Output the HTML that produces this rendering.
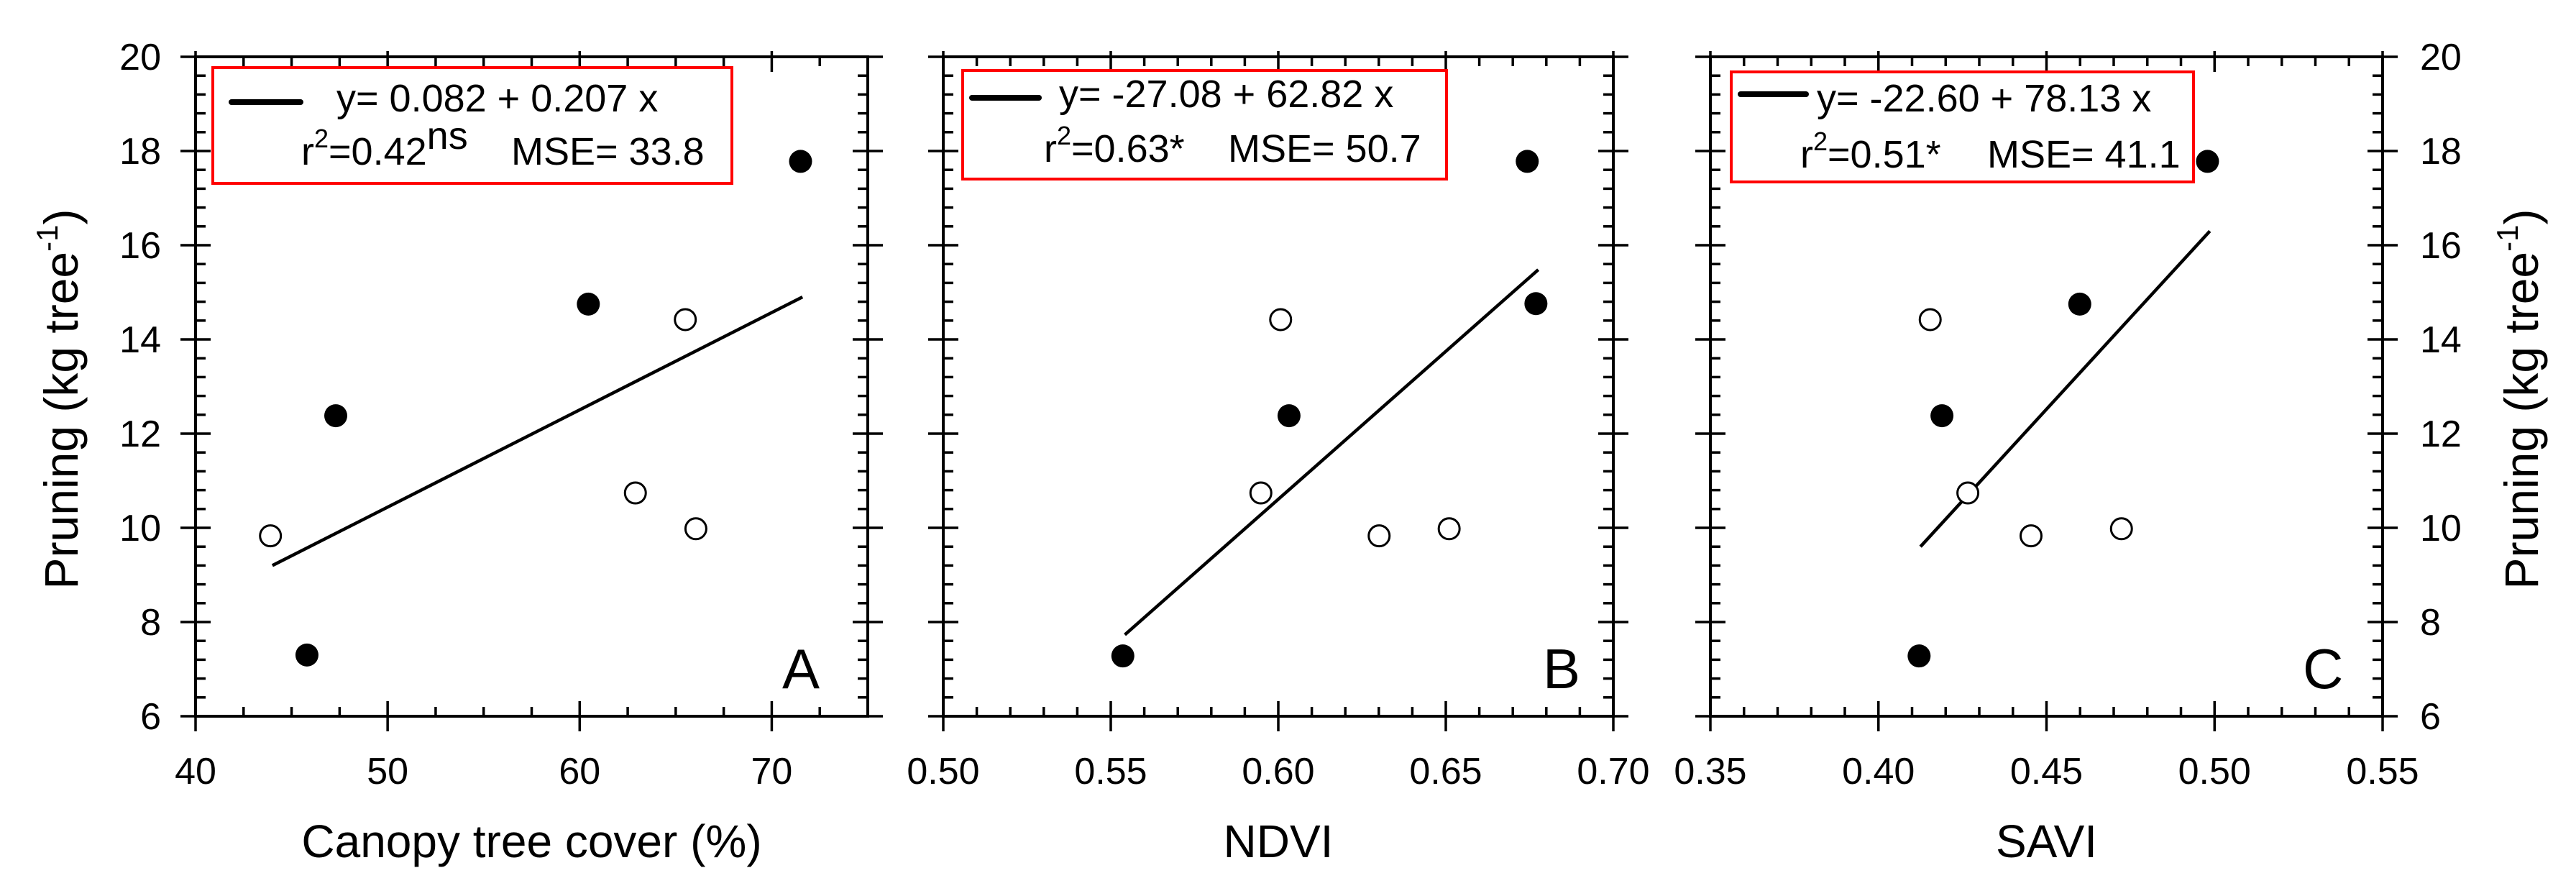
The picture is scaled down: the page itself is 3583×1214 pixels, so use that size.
<!DOCTYPE html>
<html><head><meta charset="utf-8"><style>
html,body{margin:0;padding:0;background:#fff;}
svg{display:block;font-family:"Liberation Sans",Arial,sans-serif;}
</style></head><body>
<svg id="chart" width="3583" height="1214" viewBox="0 0 3583 1214" xmlns="http://www.w3.org/2000/svg">
<g id="root"></g>
</svg>
<script>
// Panel A data: canopy tree cover (%)
const aFilledX = [71.5, 60.45, 47.3, 45.8];
const aFilledY = [17.78, 14.75, 12.38, 7.3];
const aOpenX = [65.5, 62.9, 66.05, 43.9];
const aOpenY = [14.42, 10.74, 9.98, 9.83];
const aLineX = [44.0, 71.6];
const aLineY = [9.2, 14.9];
const aTicks = [40, 50, 60, 70];
const aTickLabels = ["40", "50", "60", "70"];
// Panel B data: NDVI
const bFilledX = [0.6743, 0.6769, 0.6032, 0.5536];
const bFilledY = [17.78, 14.76, 12.38, 7.28];
const bOpenX = [0.6007, 0.5948, 0.6301, 0.6510];
const bOpenY = [14.42, 10.74, 9.83, 9.98];
const bLineX = [0.5542, 0.6776];
const bLineY = [7.73, 15.48];
const bTicks = [0.50, 0.55, 0.60, 0.65, 0.70];
const bTickLabels = ["0.50", "0.55", "0.60", "0.65", "0.70"];
// Panel C data: SAVI
const cFilledX = [0.4979, 0.4599, 0.4189, 0.4121];
const cFilledY = [17.78, 14.75, 12.38, 7.28];
const cOpenX = [0.4154, 0.4266, 0.4454, 0.4723];
const cOpenY = [14.42, 10.74, 9.83, 9.98];
const cLineX = [0.4125, 0.4986];
const cLineY = [9.6, 16.3];
const cTicks = [0.35, 0.40, 0.45, 0.50, 0.55];
const cTickLabels = ["0.35", "0.40", "0.45", "0.50", "0.55"];
// Shared y axis
const yTicks = [6, 8, 10, 12, 14, 16, 18, 20];
const yTickLabels = ["6", "8", "10", "12", "14", "16", "18", "20"];

const NS = "http://www.w3.org/2000/svg";
const root = document.getElementById("root");
const TOP = 79, BOT = 996, YMIN = 6, YMAX = 20;
function yScale(v){ return BOT - (v - YMIN) / (YMAX - YMIN) * (BOT - TOP); }
function mk(tag, attrs, parent){
  const e = document.createElementNS(NS, tag);
  for (const k in attrs) e.setAttribute(k, attrs[k]);
  (parent || root).appendChild(e);
  return e;
}

function panel(p){
  const g = mk("g", {});
  
  
  const xs = v => p.L + (v - p.xmin) / (p.xmax - p.xmin) * (p.R - p.L);
  const fr = mk("rect", {x:p.L, y:TOP, width:p.R-p.L, height:BOT-TOP, fill:"none", stroke:"#000", "stroke-width":4}, g);
  
  
  const ticks = mk("g", {stroke:"#000", "stroke-width":3.5}, g);
  
  
  const nMinX = Math.round((p.xmax - p.xmin) / p.xminor);
  for (let i = 0; i <= nMinX; i++){
    const v = p.xmin + i * p.xminor;
    const x = xs(v);
    const isMaj = p.ticks.some(t => Math.abs(t - v) < 1e-6);
    if (isMaj){
      mk("line", {x1:x, x2:x, y1:BOT-21, y2:BOT+21}, ticks);
      mk("line", {x1:x, x2:x, y1:TOP-8, y2:TOP+21}, ticks);
    } else {
      mk("line", {x1:x, x2:x, y1:BOT, y2:BOT-13}, ticks);
      mk("line", {x1:x, x2:x, y1:TOP, y2:TOP+13}, ticks);
    }
  }
  for (let i = 0; i <= 35; i++){
    const v = YMIN + i * 0.4;
    const y = yScale(v);
    const isMaj = yTicks.some(t => Math.abs(t - v) < 1e-6);
    if (isMaj){
      mk("line", {x1:p.L-21, x2:p.L+21, y1:y, y2:y}, ticks);
      mk("line", {x1:p.R-21, x2:p.R+21, y1:y, y2:y}, ticks);
    } else {
      mk("line", {x1:p.L, x2:p.L+14, y1:y, y2:y}, ticks);
      mk("line", {x1:p.R, x2:p.R-14, y1:y, y2:y}, ticks);
    }
  }
  p.ticks.forEach((t, i) => {
    const tl = mk("text", {x:xs(t), y:1090, "font-size":52, "text-anchor":"middle", fill:"#000"}, g);
    tl.textContent = p.tickLabels[i];
    
    
  });
  const xt = mk("text", {x:(p.L+p.R)/2, y:1192, "font-size":64, "text-anchor":"middle", fill:"#000"}, g);
  xt.textContent = p.xtitle;
  
  
  const rl = mk("line", {x1:xs(p.lineX[0]), y1:yScale(p.lineY[0]), x2:xs(p.lineX[1]), y2:yScale(p.lineY[1]), stroke:"#000", "stroke-width":4.5}, g);
  
  
  p.fx.forEach((v, i) => {
    const c = mk("circle", {cx:xs(v), cy:yScale(p.fy[i]), r:16, fill:"#000"}, g);
    
    
  });
  p.ox.forEach((v, i) => {
    const c = mk("circle", {cx:xs(v), cy:yScale(p.oy[i]), r:14.5, fill:"#fff", stroke:"#000", "stroke-width":3}, g);
    
    
  });
  const lg = mk("g", {}, g);
  
  
  mk("rect", {x:p.box[0], y:p.box[1], width:p.box[2]-p.box[0], height:p.box[3]-p.box[1], fill:"#fff", stroke:"#ff0000", "stroke-width":4}, lg);
  mk("line", {x1:p.leg[0], x2:p.leg[1], y1:p.leg[2], y2:p.leg[2], stroke:"#000", "stroke-width":8, "stroke-linecap":"round"}, lg);
  const t1 = mk("text", {x:p.eq[0], y:p.eq[1], "font-size":54, fill:"#000"}, lg);
  t1.textContent = p.eqText;
  
  
  const t2 = mk("text", {x:p.r2[0], y:p.r2[1], "font-size":54, fill:"#000"}, lg);
  
  
  const s1 = mk("tspan", {}, t2); s1.textContent = "r";
  const s2 = mk("tspan", {"font-size":36, dy:-24}, t2); s2.textContent = "2";
  const s3 = mk("tspan", {dy:24}, t2); s3.textContent = p.r2Text;
  if (p.sig){ const s4 = mk("tspan", {"font-size":54, dy:-22}, t2); s4.textContent = p.sig; }
  const t3 = mk("text", {x:p.mse[0], y:p.r2[1], "font-size":54, fill:"#000"}, lg);
  t3.textContent = p.mseText;
  
  
  const pl = mk("text", {x:p.letterX, y:957, "font-size":78, fill:"#000"}, g);
  pl.textContent = p.id;
  
  
}

panel({id:"A", L:272, R:1207, xmin:40, xmax:75, xminor:2.5, ticks:aTicks, tickLabels:aTickLabels,
  xtitle:"Canopy tree cover (%)", lineX:aLineX, lineY:aLineY, fx:aFilledX, fy:aFilledY, ox:aOpenX, oy:aOpenY,
  box:[296,94,1018,255], leg:[322,418,142], eq:[468,155], eqText:"y= 0.082 + 0.207 x",
  r2:[419,229], r2Text:"=0.42", sig:"ns", mse:[711,229], mseText:"MSE= 33.8", letterX:1088});
panel({id:"B", L:1312, R:2244, xmin:0.50, xmax:0.70, xminor:0.01, ticks:bTicks, tickLabels:bTickLabels,
  xtitle:"NDVI", lineX:bLineX, lineY:bLineY, fx:bFilledX, fy:bFilledY, ox:bOpenX, oy:bOpenY,
  box:[1339,98,2012,249], leg:[1352,1445,136], eq:[1473,149], eqText:"y= -27.08 + 62.82 x",
  r2:[1452,225], r2Text:"=0.63*", sig:"", mse:[1708,225], mseText:"MSE= 50.7", letterX:2146});
panel({id:"C", L:2379, R:3314, xmin:0.35, xmax:0.55, xminor:0.01, ticks:cTicks, tickLabels:cTickLabels,
  xtitle:"SAVI", lineX:cLineX, lineY:cLineY, fx:cFilledX, fy:cFilledY, ox:cOpenX, oy:cOpenY,
  box:[2408,100,3051,253], leg:[2421,2512,131], eq:[2527,155], eqText:"y= -22.60 + 78.13 x",
  r2:[2504,233], r2Text:"=0.51*", sig:"", mse:[2764,233], mseText:"MSE= 41.1", letterX:3203});

yTicks.forEach((t, i) => {
  const a = mk("text", {x:224, y:yScale(t)+18, "font-size":52, "text-anchor":"end", fill:"#000"});
  a.textContent = yTickLabels[i];
  
  
  const b = mk("text", {x:3366, y:yScale(t)+18, "font-size":52, "text-anchor":"start", fill:"#000"});
  b.textContent = yTickLabels[i];
  
  
});
function yTitle(x, name){
  const t = mk("text", {x:0, y:0, "font-size":66, "text-anchor":"middle", fill:"#000", transform:"translate("+x+",555) rotate(-90)"});
  
  
  const a = mk("tspan", {}, t); a.textContent = "Pruning (kg tree";
  const b = mk("tspan", {"font-size":42, dy:-28}, t); b.textContent = "-1";
  const c = mk("tspan", {dy:28}, t); c.textContent = ")";
}
yTitle(108, "y-axis-title-left");
yTitle(3530, "y-axis-title-right");
</script>
</body></html>
